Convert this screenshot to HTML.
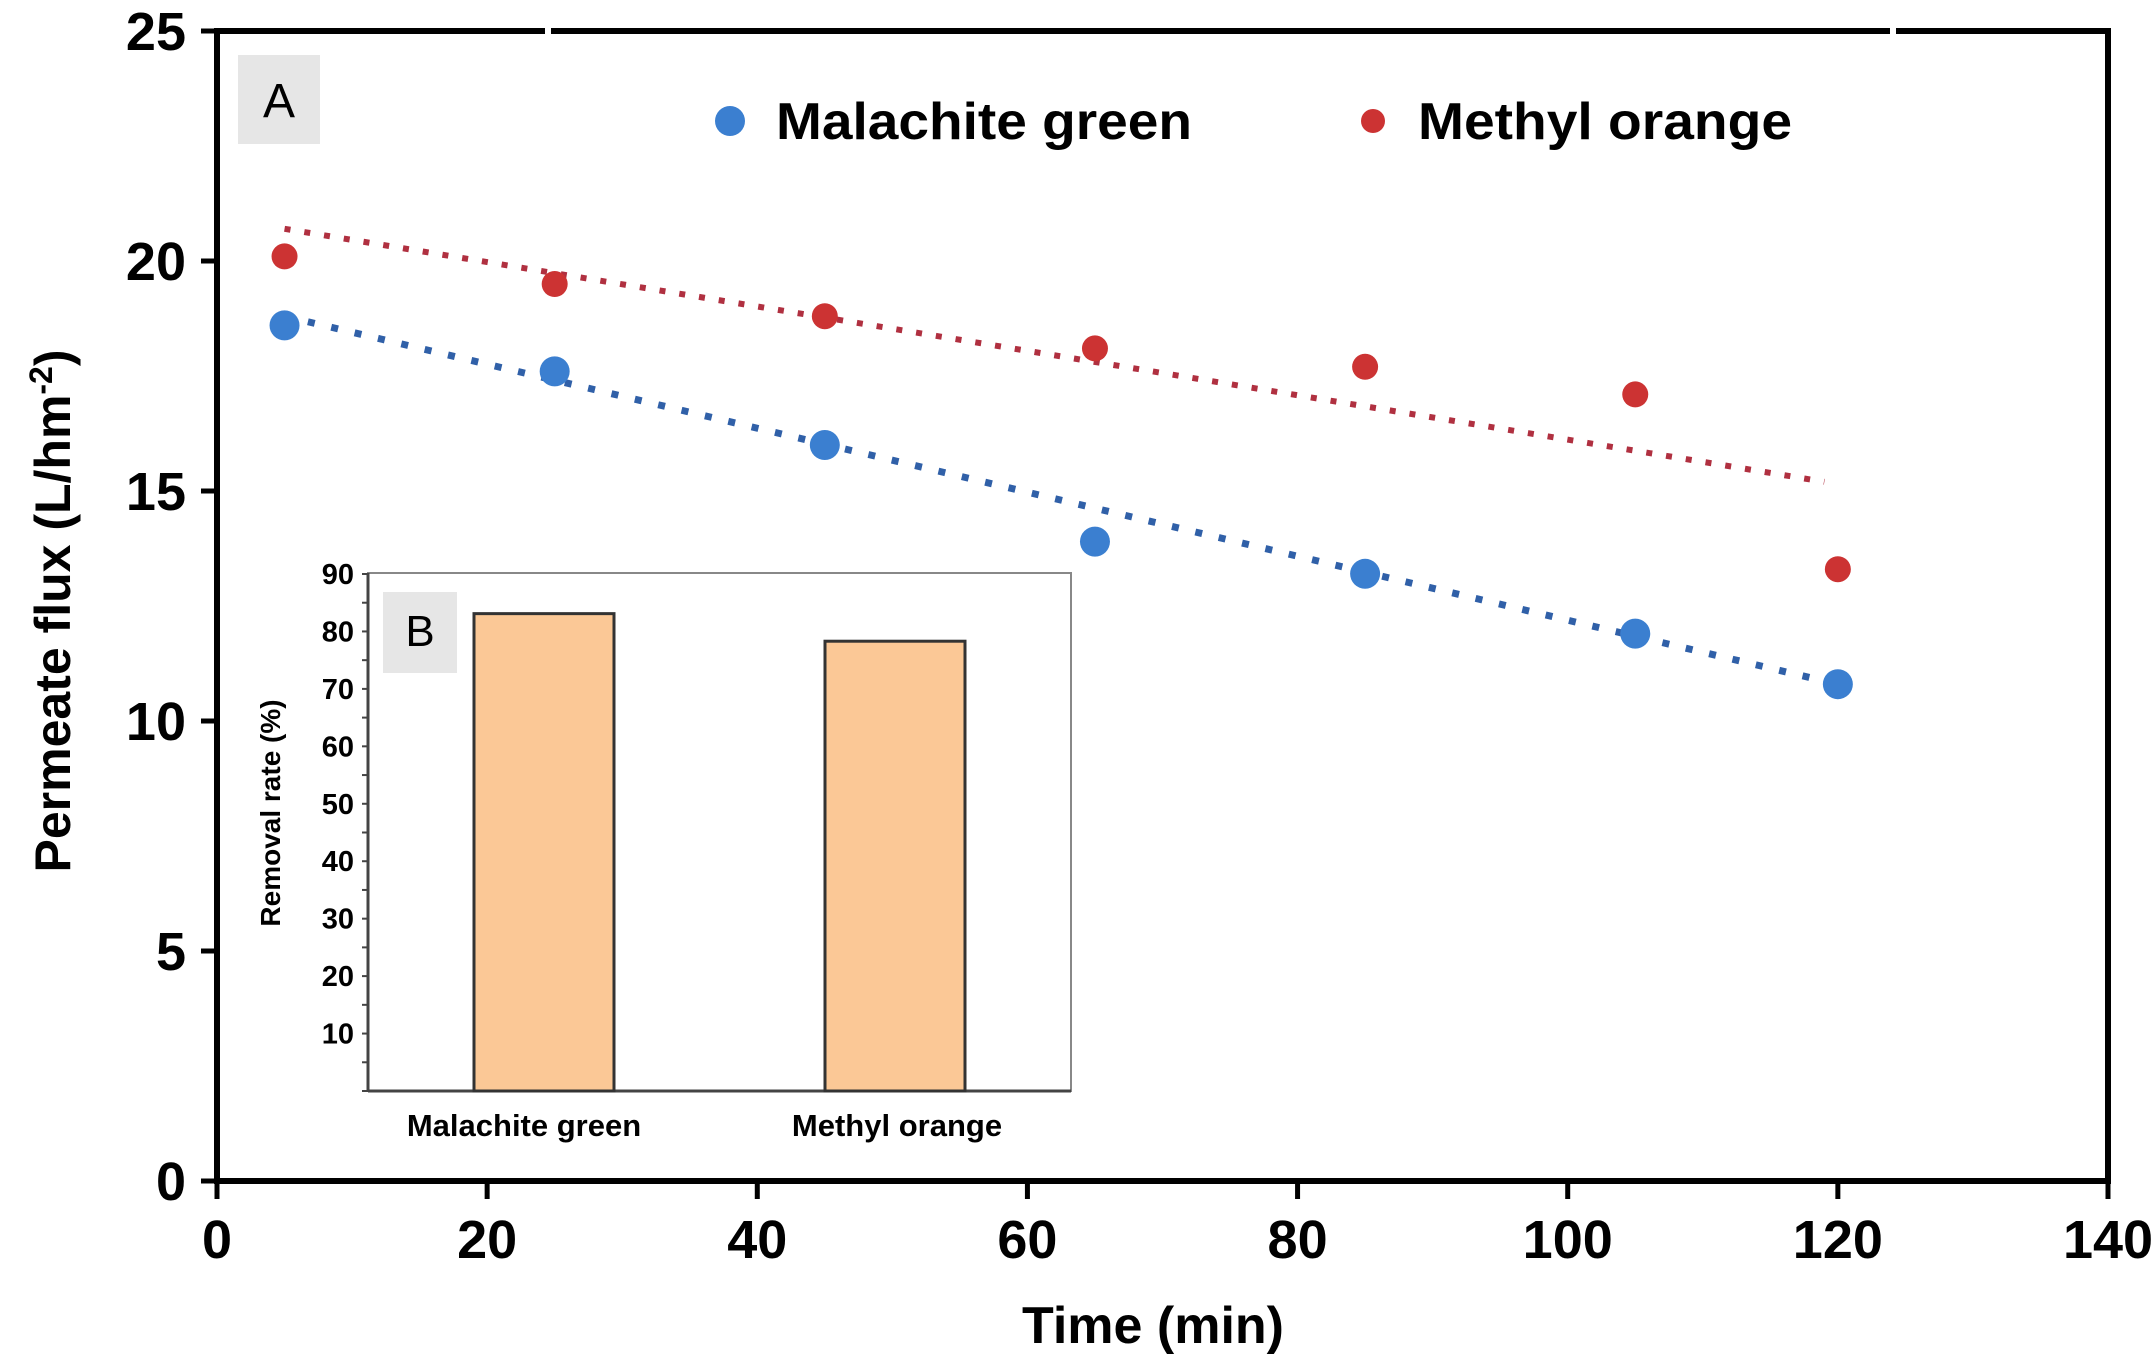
<!DOCTYPE html>
<html><head><meta charset="utf-8"><style>
html,body{margin:0;padding:0;background:#fff;}
svg{display:block;font-family:"Liberation Sans",Arial,sans-serif;}
</style></head><body>
<svg id="chart" width="2153" height="1357" viewBox="0 0 2153 1357">
<rect x="0" y="0" width="2153" height="1357" fill="#fff"/>
<g id="main"></g>
<g id="inset"></g>
</svg>
<script>
const times = [5, 25, 45, 65, 85, 105, 120];
const malachiteFlux = [18.6, 17.6, 16.0, 13.9, 13.2, 11.9, 10.8];
const methylFlux = [20.1, 19.5, 18.8, 18.1, 17.7, 17.1, 13.3];
const malachiteTrend = [[5, 18.8], [120, 10.8]];
const methylTrend = [[5, 20.7], [119, 15.2]];
const xTicks = [0, 20, 40, 60, 80, 100, 120, 140];
const yTicks = [0, 5, 10, 15, 20, 25];
const insetCategories = ["Malachite green", "Methyl orange"];
const insetValues = [83.1, 78.3];
const insetTicks = [10, 20, 30, 40, 50, 60, 70, 80, 90];

const NS = "http://www.w3.org/2000/svg";
function mk(parent, tag, attrs, text) {
  const e = document.createElementNS(NS, tag);
  for (const k in attrs) e.setAttribute(k, attrs[k]);
  if (text !== undefined) e.textContent = text;
  parent.appendChild(e);
  return e;
}
const main = document.getElementById("main");
const inset = document.getElementById("inset");
const X0 = 217, X1 = 2108, Y0 = 1181, Y1 = 31;
const sx = v => X0 + (v - 0) / 140 * (X1 - X0);
const sy = v => Y0 - v / 25 * (Y0 - Y1);

let e;
e = mk(main, "rect", {x: X0, y: Y1, width: X1 - X0, height: Y0 - Y1, fill: "none", stroke: "#000", "stroke-width": 6});


mk(main, "rect", {x: 545, y: 25, width: 6, height: 12, fill: "#fff"});
mk(main, "rect", {x: 1890, y: 25, width: 6, height: 12, fill: "#fff"});

xTicks.forEach(t => {
  mk(main, "line", {x1: sx(t), x2: sx(t), y1: Y0, y2: Y0 + 18, stroke: "#000", "stroke-width": 5});
  e = mk(main, "text", {x: sx(t), y: 1258, "text-anchor": "middle", "font-size": 54, "font-weight": "bold"}, t);
  
  
});
yTicks.forEach(t => {
  mk(main, "line", {x1: X0 - 16, x2: X0, y1: sy(t), y2: sy(t), stroke: "#000", "stroke-width": 5});
  e = mk(main, "text", {x: 186, y: sy(t) + 19, "text-anchor": "end", "font-size": 54, "font-weight": "bold"}, t);
  
  
});
e = mk(main, "text", {x: 1153, y: 1343, "text-anchor": "middle", "font-size": 52, "font-weight": "bold"}, "Time (min)");


e = mk(main, "text", {x: 0, y: 0, "text-anchor": "middle", "font-size": 50, "font-weight": "bold", transform: "translate(70,611) rotate(-90)"});


e.innerHTML = 'Permeate flux (L/hm<tspan baseline-shift="super" font-size="32">-2</tspan>)';

e = mk(main, "rect", {x: 238, y: 55, width: 82, height: 89, fill: "#e6e6e6"});


mk(main, "text", {x: 279, y: 117, "text-anchor": "middle", "font-size": 48}, "A");

e = mk(main, "circle", {cx: 730, cy: 121, r: 15, fill: "#3b7fd0"});


e = mk(main, "text", {x: 776, y: 139, "font-size": 52, "font-weight": "bold", textLength: 416, lengthAdjust: "spacingAndGlyphs"}, "Malachite green");


e = mk(main, "circle", {cx: 1373, cy: 121, r: 12, fill: "#cc3333"});


e = mk(main, "text", {x: 1418, y: 139, "font-size": 52, "font-weight": "bold", textLength: 374, lengthAdjust: "spacingAndGlyphs"}, "Methyl orange");



e = mk(main, "line", {x1: sx(methylTrend[0][0]), y1: sy(methylTrend[0][1]), x2: sx(methylTrend[1][0]), y2: sy(methylTrend[1][1]), stroke: "#b03040", "stroke-width": 6, "stroke-dasharray": "6 14"});


e = mk(main, "line", {x1: sx(malachiteTrend[0][0]), y1: sy(malachiteTrend[0][1]), x2: sx(malachiteTrend[1][0]), y2: sy(malachiteTrend[1][1]), stroke: "#3060a8", "stroke-width": 7, "stroke-dasharray": "7 17"});



times.forEach((t, i) => {
  let c = mk(main, "circle", {cx: sx(t), cy: sy(methylFlux[i]), r: 13, fill: "#cc3333"});
  
  
  c = mk(main, "circle", {cx: sx(t), cy: sy(malachiteFlux[i]), r: 15, fill: "#3b7fd0"});
  
  
});

const IX0 = 368, IX1 = 1071, IY0 = 1091, IY1 = 573;
const iy = v => IY0 - v / 90 * (IY0 - 574);
e = mk(inset, "rect", {x: IX0, y: IY1, width: IX1 - IX0, height: IY0 - IY1, fill: "#fff", stroke: "#888", "stroke-width": 2});


mk(inset, "line", {x1: IX0, x2: IX0, y1: IY1, y2: IY0, stroke: "#444", "stroke-width": 3});
mk(inset, "line", {x1: IX0, x2: IX1, y1: IY0, y2: IY0, stroke: "#444", "stroke-width": 3});
for (let v = 0; v <= 90; v += 5) mk(inset, "line", {x1: IX0 - 6, x2: IX0, y1: iy(v), y2: iy(v), stroke: "#444", "stroke-width": 2});
insetTicks.forEach(t => {
  e = mk(inset, "text", {x: 354, y: iy(t) + 10, "text-anchor": "end", "font-size": 29, "font-weight": "bold"}, t);
  
  
});
const barCenters = [544, 895];
insetCategories.forEach((c, i) => {
  e = mk(inset, "rect", {x: barCenters[i] - 70, y: iy(insetValues[i]), width: 140, height: IY0 - iy(insetValues[i]), fill: "#fbc896", stroke: "#333", "stroke-width": 3});
  
  
  e = mk(inset, "text", {x: i === 0 ? 524 : 897, y: 1136, "text-anchor": "middle", "font-size": 31, "font-weight": "bold"}, c);
  
  
});
e = mk(inset, "rect", {x: 383, y: 592, width: 74, height: 81, fill: "#e6e6e6"});


mk(inset, "text", {x: 420, y: 646, "text-anchor": "middle", "font-size": 44}, "B");
e = mk(inset, "text", {x: 0, y: 0, "text-anchor": "middle", "font-size": 28, "font-weight": "bold", transform: "translate(280,813) rotate(-90)"}, "Removal rate (%)");


</script>
</body></html>
